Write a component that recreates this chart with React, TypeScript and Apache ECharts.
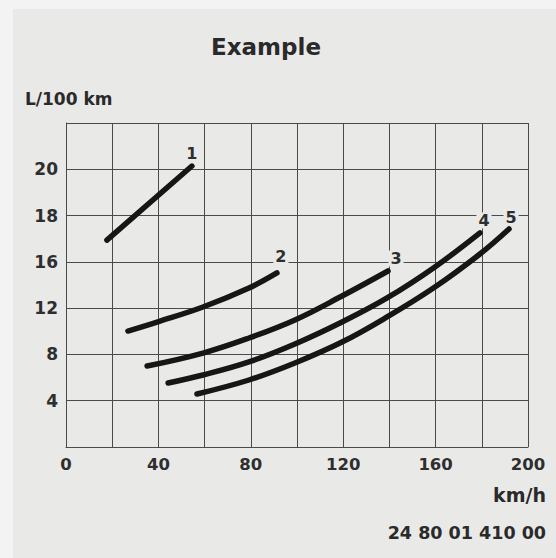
import React, { useEffect, useRef } from "react";
import * as echarts from "echarts";

// Tick values of the (non-uniform) consumption axis, one per grid row
const yTickValues = [0, 4, 8, 12, 16, 18, 20, 22];
const yTickLabels = ["", "4", "8", "12", "16", "18", "20", ""];
const xTickLabels = ["0", "40", "80", "120", "160", "200"];

const curveNames = ["1", "2", "3", "4", "5"];

const speed1 = [17.7, 54.5];
const cons1 = [16.94, 20.14];

const speed2 = [26.8, 39.4, 59.3, 79.2, 91.3];
const cons2 = [10.02, 10.8, 12.1, 13.74, 15.04];

const speed3 = [35.1, 59.3, 79.2, 99.1, 119.5, 139.4];
const cons3 = [7.0, 8.12, 9.42, 10.98, 13.05, 15.21];

const speed4 = [44.2, 59.3, 79.2, 99.1, 119.5, 139.0, 159.7, 179.2];
const cons4 = [5.53, 6.22, 7.35, 8.9, 10.8, 12.88, 15.56, 17.25];

const speed5 = [56.7, 79.2, 99.1, 119.5, 139.0, 159.7, 179.2, 191.8];
const cons5 = [4.58, 5.79, 7.26, 9.07, 11.24, 13.83, 16.34, 17.42];

const labelOffsets = [
  [0, 0],
  [4, -4],
  [8, 0],
  [4, 0],
  [2, 1],
];

const BG = "#e9e9e8";
const FONT = "DejaVu Sans";

function toRow(v: number): number {
  for (let i = 0; i < yTickValues.length - 1; i++) {
    const a = yTickValues[i];
    const b = yTickValues[i + 1];
    if (v <= b || i === yTickValues.length - 2) {
      return i + (v - a) / (b - a);
    }
  }
  return 0;
}

export default function App() {
  const ref = useRef<HTMLDivElement>(null);

  useEffect(() => {
    if (!ref.current) return;
    const chart = echarts.init(ref.current, undefined, { renderer: "svg" });

    const all = [
      [speed1, cons1],
      [speed2, cons2],
      [speed3, cons3],
      [speed4, cons4],
      [speed5, cons5],
    ];

    const series = all.map(([sp, co], k) => ({
      type: "line",
      name: curveNames[k],
      smooth: 0.4,
      symbol: "circle",
      symbolSize: 1,
      showSymbol: true,
      itemStyle: { color: "#161616" },
      lineStyle: { color: "#161616", width: 5.5, cap: "round" },
      label: { show: false },
      emphasis: { disabled: true },
      z: 5,
      data: sp.map((s, i) => {
        const item: any = { value: [s, toRow(co[i])] };
        if (i === sp.length - 1) {
          item.label = {
            show: true,
            formatter: curveNames[k],
            position: "top",
            distance: 4,
            offset: labelOffsets[k],
            fontFamily: FONT,
            fontWeight: "bold",
            fontSize: 16,
            color: "#2e2e2e",
            backgroundColor: BG,
            padding: [0, 2, 0, 2],
          };
        }
        return item;
      }),
    }));

    chart.setOption({
      animation: false,
      backgroundColor: BG,
      grid: { left: 66, right: 28, top: 123, bottom: 111, containLabel: false },
      xAxis: {
        type: "value",
        min: 0,
        max: 200,
        interval: 20,
        axisLine: { show: true, lineStyle: { color: "#4a4a4a", width: 1 } },
        axisTick: { show: false },
        splitLine: { show: true, lineStyle: { color: "#4a4a4a", width: 1 } },
        axisLabel: {
          margin: 9,
          fontFamily: FONT,
          fontWeight: "bold",
          fontSize: 16.5,
          color: "#2e2e2e",
          formatter: (v: number) => {
            const s = String(v);
            return xTickLabels.indexOf(s) >= 0 ? s : "";
          },
        },
      },
      yAxis: {
        type: "value",
        min: 0,
        max: yTickValues.length - 1,
        interval: 1,
        axisLine: { show: true, lineStyle: { color: "#4a4a4a", width: 1 } },
        axisTick: { show: false },
        splitLine: { show: true, lineStyle: { color: "#4a4a4a", width: 1 } },
        axisLabel: {
          margin: 8,
          fontFamily: FONT,
          fontWeight: "bold",
          fontSize: 17,
          color: "#2e2e2e",
          formatter: (v: number) => yTickLabels[Math.round(v)] ?? "",
        },
      },
      graphic: [
        {
          type: "rect",
          shape: { x: 0, y: 0, width: 13, height: 558 },
          style: { fill: "#f3f3f3" },
          silent: true,
          z: -10,
        },
        {
          type: "rect",
          shape: { x: 0, y: 0, width: 556, height: 9 },
          style: { fill: "#f3f3f3" },
          silent: true,
          z: -10,
        },
        {
          type: "text",
          x: 266,
          y: 47,
          style: {
            text: "Example",
            fontFamily: FONT,
            fontWeight: "bold",
            fontSize: 23,
            fill: "#2a2a2a",
            textAlign: "center",
            textVerticalAlign: "middle",
          },
        },
        {
          type: "text",
          x: 25,
          y: 99,
          style: {
            text: "L/100 km",
            fontFamily: FONT,
            fontWeight: "bold",
            fontSize: 17,
            fill: "#2a2a2a",
            textAlign: "left",
            textVerticalAlign: "middle",
          },
        },
        {
          type: "text",
          x: 546,
          y: 495,
          style: {
            text: "km/h",
            fontFamily: FONT,
            fontWeight: "bold",
            fontSize: 19,
            fill: "#2a2a2a",
            textAlign: "right",
            textVerticalAlign: "middle",
          },
        },
        {
          type: "text",
          x: 546,
          y: 533,
          style: {
            text: "24 80 01 410 00",
            fontFamily: FONT,
            fontWeight: "bold",
            fontSize: 17.5,
            fill: "#2a2a2a",
            textAlign: "right",
            textVerticalAlign: "middle",
          },
        },
      ],
      series,
    });

    return () => {
      chart.dispose();
    };
  }, []);

  return (
    <div
      ref={ref}
      style={{ position: "absolute", left: 0, top: 0, width: 556, height: 558 }}
    />
  );
}
